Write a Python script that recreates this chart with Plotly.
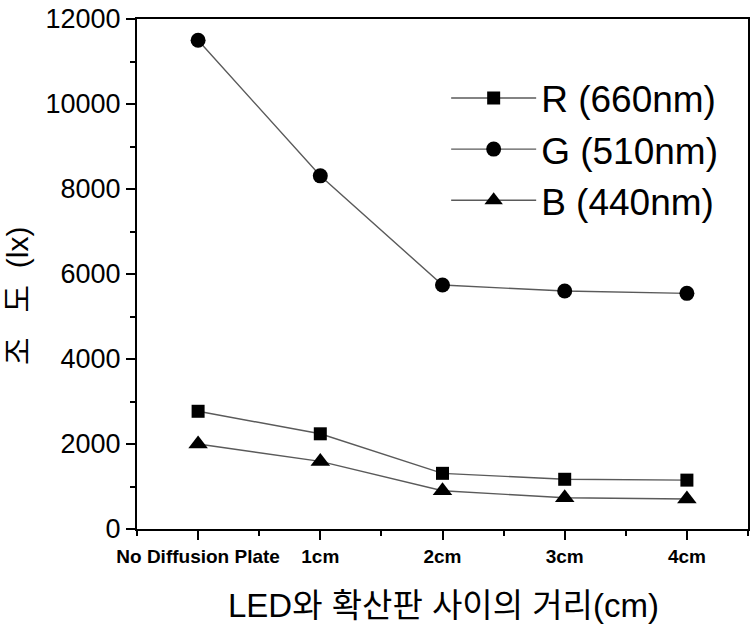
import plotly.graph_objects as go

categories = ["No Diffusion Plate", "1cm", "2cm", "3cm", "4cm"]
r_values = [2770, 2240, 1310, 1170, 1150]
g_values = [11500, 8310, 5740, 5600, 5545]
b_values = [2000, 1590, 900, 737, 706]
y_ticks = [0, 2000, 4000, 6000, 8000, 10000, 12000]

series = [
    ("R (660nm)", r_values, "square", 13),
    ("G (510nm)", g_values, "circle", 15),
    ("B (440nm)", b_values, "triangle-up", 17),
]

fig = go.Figure()
for name, vals, sym, msize in series:
    fig.add_trace(go.Scatter(
        x=list(range(len(categories))), y=vals, name=name,
        mode="lines+markers",
        line=dict(color="#5a5a5a", width=1.4),
        marker=dict(symbol=sym, size=msize, color="black"),
    ))

W, H = 755, 631
L, R, T, B = 137, 7, 19, 102
PW, PH = W - L - R, H - T - B

fig.update_layout(
    width=W, height=H,
    margin=dict(l=L, r=R, t=T, b=B, autoexpand=False),
    paper_bgcolor="white", plot_bgcolor="white",
    font=dict(family="Liberation Sans, Arial, sans-serif", color="black"),
    showlegend=True,
    legend=dict(
        x=0.506, y=0.905, xanchor="left", yanchor="top",
        font=dict(size=37, family="Liberation Sans, Arial, sans-serif"),
        bgcolor="rgba(0,0,0,0)", tracegroupgap=0, itemwidth=85,
    ),
    xaxis=dict(
        range=[-0.5, 4.5],
        tickmode="array", tickvals=list(range(len(categories))), ticktext=categories,
        tickfont=dict(size=19, family="Liberation Sans, Arial, sans-serif", weight="bold"),
        ticks="outside", ticklen=9, tickwidth=2, tickcolor="black",
        showline=True, linecolor="black", linewidth=2, mirror=True,
        showgrid=False, zeroline=False,
        minor=dict(ticks="outside", ticklen=5, tickwidth=2, tickcolor="black", dtick=0.5, tick0=0.5),
    ),
    yaxis=dict(
        range=[0, 12000],
        tickmode="array", tickvals=y_ticks, ticktext=[str(v) for v in y_ticks],
        tickfont=dict(size=27, family="Liberation Sans, Arial, sans-serif"),
        ticks="outside", ticklen=9, tickwidth=2, tickcolor="black",
        showline=True, linecolor="black", linewidth=2, mirror=True,
        showgrid=False, zeroline=False,
        minor=dict(ticks="outside", ticklen=5, tickwidth=2, tickcolor="black", dtick=1000),
    ),
    annotations=[
        dict(text="LED와 확산판 사이의 거리(cm)", xref="paper", yref="paper",
             x=(443 - L) / PW, y=-(605 - (H - B)) / PH,
             xanchor="center", yanchor="middle", showarrow=False,
             font=dict(size=33, family="Liberation Sans, Noto Sans CJK KR, sans-serif")),
        dict(text="조\u00a0\u00a0\u00a0도\u00a0\u00a0(lx)", xref="paper", yref="paper",
             x=-(L - 17) / PW, y=1 - (296 - T) / PH,
             xanchor="center", yanchor="middle", textangle=-90, showarrow=False,
             font=dict(size=30, family="Liberation Sans, Noto Sans CJK KR, sans-serif")),
    ],
)

# remove the browser's default 8px page margin so the figure sits at the window origin
fig.write_html("out.html", config={"displayModeBar": False},
               post_script="document.body.style.margin='0';")
